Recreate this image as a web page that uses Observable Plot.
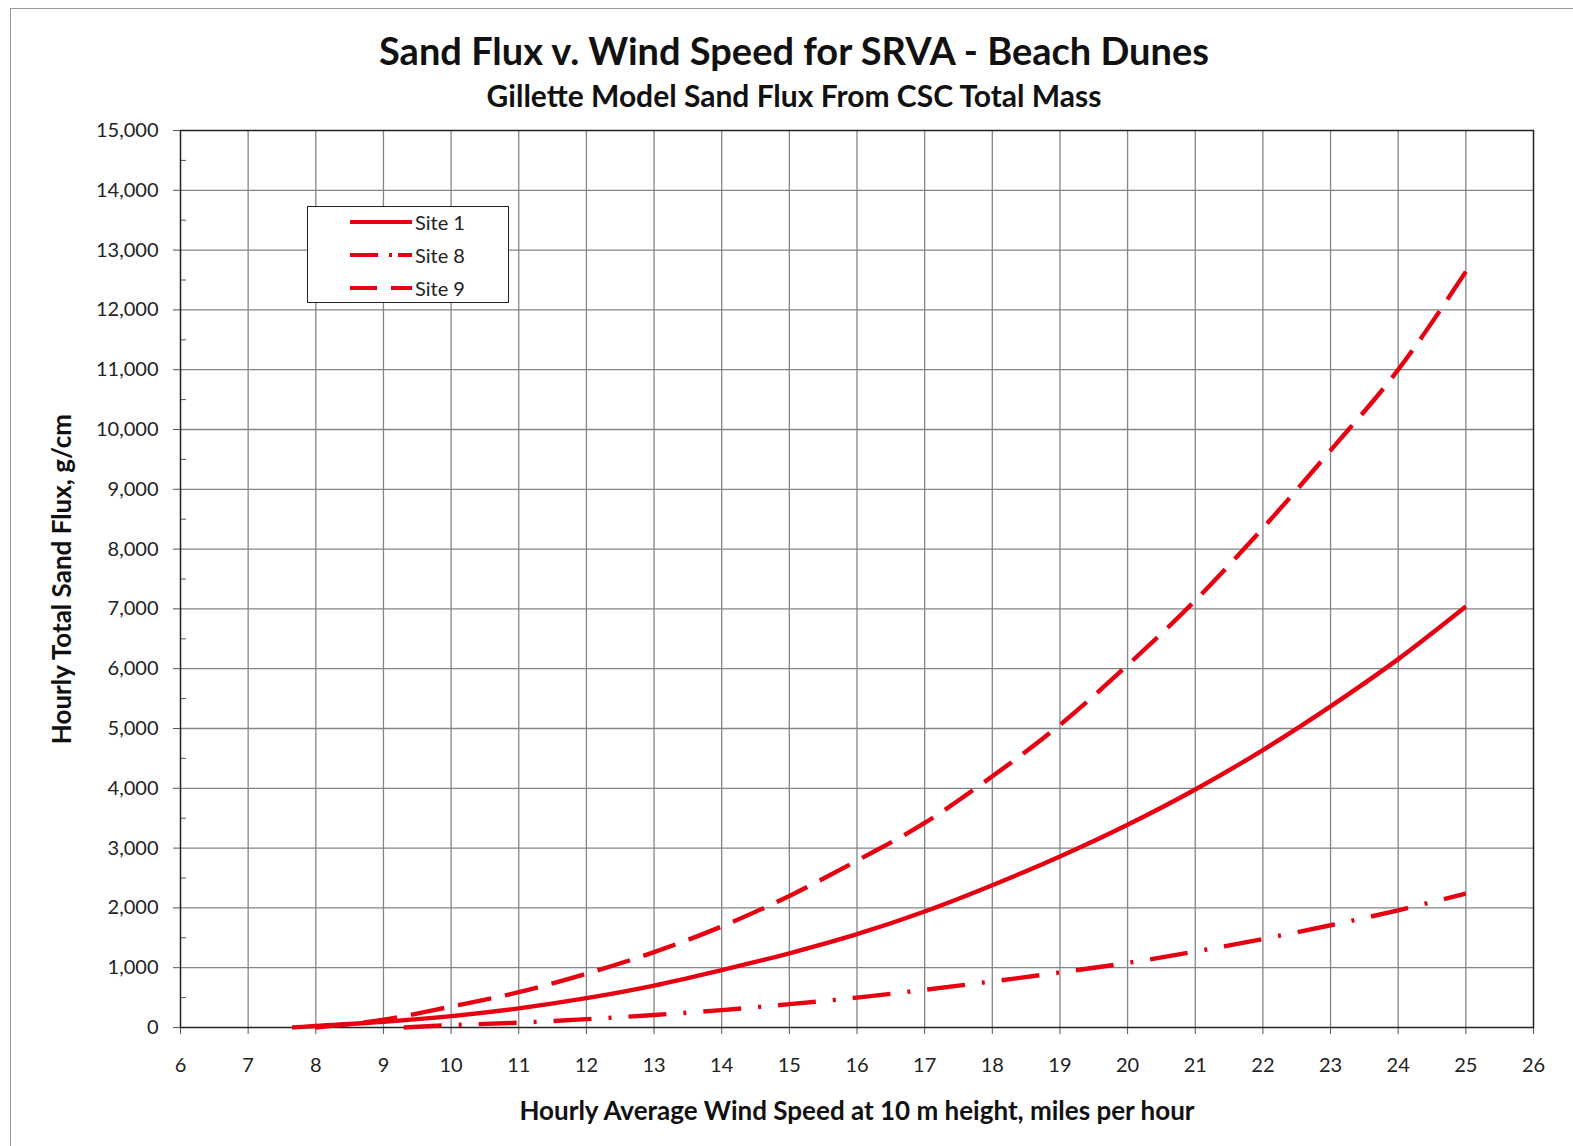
<!DOCTYPE html>
<html><head><meta charset="utf-8">
<script src="https://cdn.jsdelivr.net/npm/d3@7"></script>
<script src="https://cdn.jsdelivr.net/npm/@observablehq/plot@0.6"></script>
<style>
html,body{margin:0;padding:0;background:#fff;}
body{width:1573px;height:1146px;position:relative;overflow:hidden;font-family:Lato,sans-serif;color:#111;}
#border{position:absolute;left:10px;top:8px;width:1700px;height:1300px;border-left:1.5px solid #9a9a9a;border-top:1.5px solid #9a9a9a;pointer-events:none;}
#head{position:relative;height:118px;width:1588px;}
#title{position:absolute;left:0;width:1588px;text-align:center;top:27px;font-size:38px;font-weight:700;}
#subtitle{position:absolute;left:0;width:1588px;text-align:center;top:77px;font-size:30px;font-weight:700;}
#legend{position:absolute;left:307px;top:206px;width:200px;height:95px;border:1.5px solid #222;background:#fff;}
#legend .row{position:absolute;left:42px;height:30px;display:flex;align-items:center;font-size:20px;color:#222;}
#legend svg{margin-right:3px;}
svg g[aria-label="x-axis label"] text, svg g[aria-label="y-axis label"] text{font-weight:700;font-size:26px;fill:#111;}
</style>
</head>
<body>
<div id="head">
  <div id="title">Sand Flux v. Wind Speed for SRVA - Beach Dunes</div>
  <div id="subtitle">Gillette Model Sand Flux From CSC Total Mass</div>
</div>
<div id="chart"></div>
<div id="legend"></div>
<div id="border"></div>
<script>
// ---- data ----
const seriesNames = ["Site 1", "Site 8", "Site 9"];
const site1Speed = [7.65, 8, 9, 10, 11, 12, 13, 14, 15, 16, 17, 18, 19, 20, 21, 22, 23, 24, 25];
const site1Flux  = [0, 25, 95, 190, 320, 490, 700, 960, 1240, 1560, 1940, 2380, 2860, 3390, 3980, 4640, 5370, 6160, 7040];
const site8Speed = [9.3, 10, 11, 12, 13, 14, 15, 16, 17, 18, 19, 20, 21, 22, 23, 24, 25];
const site8Flux  = [0, 40, 80, 140, 210, 290, 390, 500, 630, 770, 920, 1080, 1270, 1480, 1710, 1960, 2240];
const site9Speed = [8.0, 9, 10, 11, 12, 13, 14, 15, 16, 17, 18, 19, 20, 21, 22, 23, 24, 25];
const site9Flux  = [0, 130, 350, 590, 900, 1260, 1690, 2200, 2790, 3420, 4200, 5060, 6060, 7140, 8350, 9650, 11000, 12640];
const xTicks = [6, 7, 8, 9, 10, 11, 12, 13, 14, 15, 16, 17, 18, 19, 20, 21, 22, 23, 24, 25, 26];
const yTicks = [0, 1000, 2000, 3000, 4000, 5000, 6000, 7000, 8000, 9000, 10000, 11000, 12000, 13000, 14000, 15000];
const yMinorTicks = [500, 1500, 2500, 3500, 4500, 5500, 6500, 7500, 8500, 9500, 10500, 11500, 12500, 13500, 14500];
const xLabel = "Hourly Average Wind Speed at 10 m height, miles per hour";
const yLabel = "Hourly Total Sand Flux, g/cm";

// ---- styles ----
const red = "#e60012";
const dashes = {"Site 1": null, "Site 8": "38,17,3,17", "Site 9": "34,14"};

const toRows = (name, xs, ys) => xs.map((s, i) => ({site: name, speed: s, flux: ys[i]}));
const data = {
  "Site 1": toRows("Site 1", site1Speed, site1Flux),
  "Site 8": toRows("Site 8", site8Speed, site8Flux),
  "Site 9": toRows("Site 9", site9Speed, site9Flux)
};

const gridStyle = {stroke: "#858585", strokeOpacity: 1, strokeWidth: 1.3};

const chart = Plot.plot({
  width: 1573,
  height: 1028,
  marginTop: 12,
  marginLeft: 180,
  marginRight: 40,
  marginBottom: 119,
  style: {fontFamily: "Lato, sans-serif", fontSize: "20px", color: "#222", background: "transparent", overflow: "visible"},
  x: {domain: [6, 26]},
  y: {domain: [0, 15000]},
  marks: [
    Plot.gridX(xTicks.slice(1, -1), gridStyle),
    Plot.gridY(yTicks.slice(1, -1), gridStyle),
    Plot.axisY(yMinorTicks, {anchor: "right", frameAnchor: "left", tickSize: 5, tickFormat: () => "", label: null, stroke: "#555"}),
    Plot.axisX(xTicks, {tickSize: 7, tickPadding: 23, stroke: "#555", label: xLabel, labelAnchor: "center", labelOffset: 92, labelArrow: "none"}),
    Plot.axisY(yTicks, {tickSize: 7, tickPadding: 15, stroke: "#555", tickFormat: d3.format(","), label: yLabel, labelAnchor: "center", labelOffset: 128, labelArrow: "none"}),
    Plot.frame({stroke: "#222", strokeWidth: 1.5}),
    ...seriesNames.map(name => Plot.line(data[name], {
      x: "speed", y: "flux", stroke: red, strokeWidth: 4.4,
      strokeDasharray: dashes[name], strokeLinecap: "butt", curve: "monotone-x"
    }))
  ]
});
document.getElementById("chart").appendChild(chart);

// ---- legend ----
const legend = document.getElementById("legend");
seriesNames.forEach((name, i) => {
  const row = document.createElement("div");
  row.className = "row";
  row.style.top = (0 + i * 33) + "px";
  const dash = dashes[name] ? ` stroke-dasharray="${name === "Site 8" ? "28,11,3,6" : "27,14"}"` : "";
  row.innerHTML = `<svg width="62" height="10"><line x1="0" y1="5" x2="62" y2="5" stroke="${red}" stroke-width="4"${dash}/></svg><span>${name}</span>`;
  legend.appendChild(row);
});
</script>
</body></html>
